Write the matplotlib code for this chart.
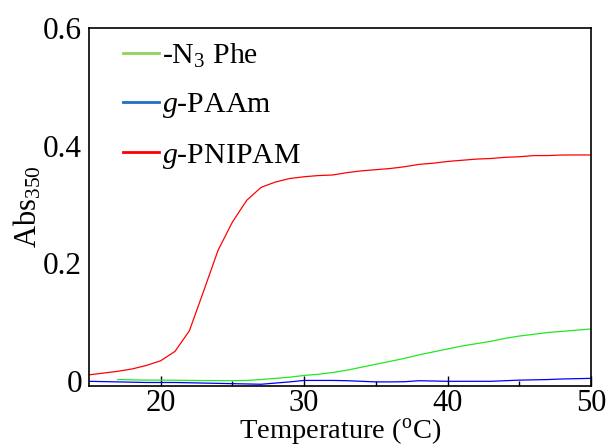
import matplotlib
matplotlib.use("Agg")
import matplotlib.pyplot as plt
from matplotlib.lines import Line2D
import numpy as np

plt.rcParams['font.family'] = ['Liberation Serif', 'DejaVu Serif']
plt.rcParams['mathtext.fontset'] = 'custom'
plt.rcParams['mathtext.rm'] = 'Liberation Serif'
plt.rcParams['mathtext.it'] = 'Liberation Serif:italic'

# temperatures (degC)
temp_red = np.arange(15, 51)
temp_blue = np.arange(15, 51)
temp_green = np.arange(17, 51)

# g-PNIPAM
abs_pnipam = [0.010, 0.013, 0.016, 0.020, 0.026, 0.034, 0.050, 0.085, 0.153, 0.222,
              0.270, 0.307, 0.329, 0.338, 0.344, 0.347, 0.349, 0.350, 0.354, 0.357,
              0.359, 0.361, 0.364, 0.368, 0.370, 0.373, 0.375, 0.377, 0.378, 0.380,
              0.381, 0.383, 0.383, 0.384, 0.384, 0.384]
# g-PAAm
abs_paam = [-0.001, -0.0015, -0.002, -0.0025, -0.003, -0.003, -0.003, -0.0035, -0.004, -0.0045,
            -0.005, -0.0055, -0.006, -0.004, -0.002, 0.0005, 0.0005, 0.0005, 0.0, -0.001,
            -0.002, -0.002, -0.0017, 0.0, -0.0005, -0.001, -0.001, -0.001, -0.001, 0.0,
            0.001, 0.0015, 0.002, 0.003, 0.0035, 0.004]
# -N3 Phe
abs_n3phe = [0.002, 0.0015, 0.001, 0.001, 0.0008, 0.0005, 0.0003, 0.0002, 0.0, 0.0005,
             0.002, 0.004, 0.006, 0.009, 0.011, 0.014, 0.018, 0.023, 0.028, 0.033,
             0.038, 0.044, 0.049, 0.054, 0.059, 0.063, 0.067, 0.072, 0.076, 0.079,
             0.082, 0.084, 0.086, 0.088]

labels = ['-N$_3$ Phe', '$g$-PAAm', '$g$-PNIPAM']
legend_colors = ['#8ed45a', '#1f6fc4', '#ff0000']

fig = plt.figure(figsize=(6.1, 4.46), dpi=100)
ax = fig.add_axes([0.1459, 0.1345, 0.823, 0.8027])

ax.plot(temp_green, abs_n3phe, color='#22e822', lw=0.9)
ax.plot(temp_blue, abs_paam, color='#0000ff', lw=0.9)
ax.plot(temp_red, abs_pnipam, color='#ff0000', lw=0.9)

ax.set_xlim(15, 50)
ax.set_ylim(-0.009, 0.6)
ax.set_xticks([20, 30, 40, 50])
ax.set_xticks([25, 35, 45], minor=True)
ax.set_yticks([0, 0.2, 0.4, 0.6])
ax.set_yticklabels(['0', '0.2', '0.4', '0.6'])

ax.tick_params(axis='x', which='major', direction='in', length=7, width=1, labelsize=22, pad=2)
ax.tick_params(axis='x', which='minor', direction='in', length=3.5, width=1)
ax.tick_params(axis='y', length=0, labelsize=22.5, pad=5)
for s in ax.spines.values():
    s.set_linewidth(1.2)

ax.set_xlabel('Temperature ($^{\\rm o}$C)', fontsize=20.5, labelpad=-1)
ax.set_ylabel('Abs$_{350}$', fontsize=22, labelpad=0)

handles = [Line2D([0], [0], color=c, lw=2) for c in legend_colors]
ax.legend(handles, labels, loc='upper left', bbox_to_anchor=(0.014, 1.037), frameon=False,
          fontsize=21.5, handlelength=1.2, handletextpad=0.12, labelspacing=0.72)

fig.savefig('out.png', dpi=100)
